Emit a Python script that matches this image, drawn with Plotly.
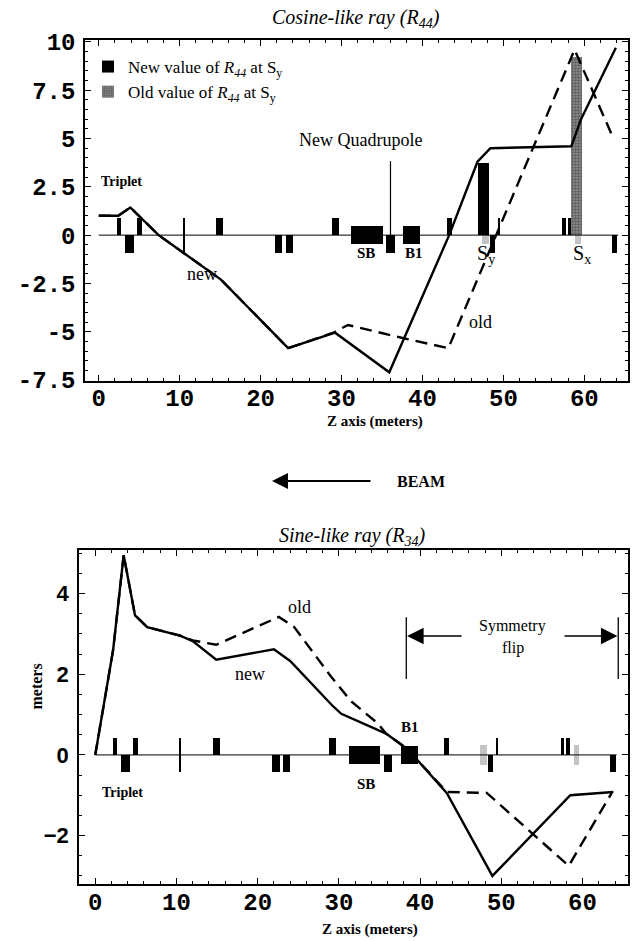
import plotly.graph_objects as go

W, H = 637, 941

# ---------------- data ----------------
# Top panel: cosine-like ray R44 (z in metres)
r44_new_z = [0.0, 2.4, 3.9, 7.4, 15.1, 23.4, 29.2, 35.9, 43.3, 46.8, 48.4, 58.4, 59.6, 63.9]
r44_new_v = [1.0, 1.0, 1.43, 0.0, -2.3, -5.85, -5.05, -7.1, 0.0, 3.8, 4.5, 4.6, 6.0, 9.7]
r44_old_z = [0.0, 2.4, 3.9, 7.4, 15.1, 23.4, 29.0, 30.8, 37.8, 43.2, 58.8, 63.6]
r44_old_v = [1.0, 1.0, 1.43, 0.0, -2.3, -5.85, -5.05, -4.65, -5.35, -5.85, 9.6, 5.0]

# Bottom panel: sine-like ray R34 (metres)
r34_new_z = [0.0, 2.2, 3.5, 4.9, 6.4, 10.4, 12.0, 14.9, 22.0, 24.0, 29.3, 30.3, 35.8, 37.8, 39.1, 43.3, 48.9, 58.5, 63.8]
r34_new_v = [0.0, 2.6, 4.95, 3.46, 3.17, 2.96, 2.82, 2.36, 2.62, 2.33, 1.2, 1.02, 0.53, 0.24, 0.0, -0.95, -3.0, -1.0, -0.92]
r34_old_z = [0.0, 2.2, 3.5, 4.9, 6.4, 10.4, 12.0, 14.9, 22.6, 24.5, 29.0, 31.5, 34.8, 35.8, 37.8, 39.1, 43.3, 48.2, 58.3, 63.6]
r34_old_v = [0.0, 2.6, 4.95, 3.46, 3.17, 2.96, 2.84, 2.73, 3.42, 3.17, 1.95, 1.33, 0.78, 0.53, 0.24, 0.0, -0.92, -0.94, -2.75, -0.94]

# Beamline elements (start / end positions, metres)
beamline_z = [0.0, 64.2]
quad_up_start = [2.2, 4.7, 14.5, 28.8, 43.0, 57.3, 58.0]
quad_up_end = [2.7, 5.3, 15.4, 29.7, 43.6, 57.7, 58.5]
quad_dn_start = [3.2, 21.8, 23.1, 35.5, 48.3, 63.4]
quad_dn_end = [4.3, 22.7, 24.0, 36.6, 49.0, 64.1]
bend_start = [31.2, 37.6]   # SB, B1
bend_end = [35.1, 39.7]
sext_start = [47.4, 58.9]   # Sy, Sx
sext_end = [48.2, 59.6]
thin_both_z = [10.5]
thin_up_z = [49.5]

# R44 value bars
new_bar_span = [46.9, 48.2]
new_r44_value = 3.75
old_bar_span = [58.4, 59.7]
old_r44_value = 9.2

# Tick labels
top_x_ticks = [0, 10, 20, 30, 40, 50, 60]
top_y_ticks = [10, 7.5, 5, 2.5, 0, -2.5, -5, -7.5]
top_y_text = ["10", "7.5", "5", "2.5", "0", "-2.5", "-5", "-7.5"]
bot_y_ticks = [4, 2, 0, -2]
bot_y_text = ["4", "2", "0", "\u22122"]

SERIF = "Liberation Serif"
MONO = "Liberation Mono"
SANS = "Liberation Sans"

fig = go.Figure()


def span_bars(starts, ends, base, height, color, xa, ya, width=None):
    centers = [(a + b) / 2 for a, b in zip(starts, ends)]
    widths = [width if width else (b - a) for a, b in zip(starts, ends)]
    fig.add_trace(go.Bar(x=centers, y=[height] * len(centers), base=[base] * len(centers),
                         width=widths, marker=dict(color=color, line=dict(width=0)),
                         xaxis=xa, yaxis=ya, showlegend=False, hoverinfo="skip"))


def elements(xa, ya, qh, bh, sh):
    fig.add_trace(go.Scatter(x=beamline_z, y=[0, 0], mode="lines",
                             line=dict(color="black", width=1), xaxis=xa, yaxis=ya,
                             showlegend=False, hoverinfo="skip"))
    span_bars(quad_up_start, quad_up_end, 0, qh, "black", xa, ya)
    span_bars(quad_dn_start, quad_dn_end, -qh, qh, "black", xa, ya)
    span_bars(bend_start, bend_end, -bh, 2 * bh, "black", xa, ya)
    span_bars(sext_start, sext_end, -sh, 2 * sh, "#c4c4c4", xa, ya)
    span_bars(thin_both_z, thin_both_z, -qh, 2 * qh, "black", xa, ya, width=0.18)
    span_bars(thin_up_z, thin_up_z, 0, qh, "black", xa, ya, width=0.22)


# ---- top panel ----
elements("x", "y", 0.9, 0.45, 0.45)
fig.add_trace(go.Bar(x=[sum(new_bar_span) / 2], y=[new_r44_value], base=[0],
                     width=[new_bar_span[1] - new_bar_span[0]],
                     marker=dict(color="black", line=dict(width=0)),
                     name="New value of <i>R<sub>44</sub></i> at S<sub>y</sub>",
                     xaxis="x", yaxis="y", showlegend=True))
fig.add_trace(go.Bar(x=[sum(old_bar_span) / 2], y=[old_r44_value], base=[0],
                     width=[old_bar_span[1] - old_bar_span[0]],
                     marker=dict(color="#6a6a6a", line=dict(width=0),
                                 pattern=dict(shape=".", fgcolor="#333333", bgcolor="#8a8a8a", size=3, solidity=0.5)),
                     name="Old value of <i>R<sub>44</sub></i> at S<sub>y</sub>",
                     xaxis="x", yaxis="y", showlegend=True))
fig.add_trace(go.Scatter(x=r44_old_z, y=r44_old_v, mode="lines",
                         line=dict(color="black", width=2.4, dash="12px,7px"),
                         xaxis="x", yaxis="y", showlegend=False))
fig.add_trace(go.Scatter(x=r44_new_z, y=r44_new_v, mode="lines",
                         line=dict(color="black", width=2.4),
                         xaxis="x", yaxis="y", showlegend=False))

# ---- bottom panel ----
elements("x2", "y2", 0.42, 0.22, 0.25)
fig.add_trace(go.Scatter(x=r34_old_z, y=r34_old_v, mode="lines",
                         line=dict(color="black", width=2.4, dash="12px,7px"),
                         xaxis="x2", yaxis="y2", showlegend=False))
fig.add_trace(go.Scatter(x=r34_new_z, y=r34_new_v, mode="lines",
                         line=dict(color="black", width=2.4),
                         xaxis="x2", yaxis="y2", showlegend=False))

axis_common = dict(showgrid=False, zeroline=False, showline=True, linecolor="black",
                   linewidth=1.5, mirror="allticks", ticks="inside", ticklen=6,
                   tickcolor="black", tickwidth=1)
mono_font = dict(family=MONO, size=24, color="black", weight="bold")

fig.update_layout(
    width=W, height=H, margin=dict(l=0, r=0, t=0, b=0, autoexpand=False),
    paper_bgcolor="white", plot_bgcolor="white", barmode="overlay", bargap=0,
    xaxis=dict(axis_common, domain=[85 / W, 628 / W], range=[-1.7, 65.4], anchor="y",
               tickvals=top_x_ticks, tickfont=mono_font, automargin=False,
               minor=dict(dtick=2, ticklen=3, ticks="inside", tickcolor="black"),
               ticklabelstandoff=-6),
    yaxis=dict(axis_common, domain=[1 - 381 / H, 1 - 40 / H], range=[-7.55, 10.1], anchor="x",
               tickvals=top_y_ticks, ticktext=top_y_text, tickfont=mono_font, automargin=False,
               minor=dict(dtick=0.5, ticklen=3, ticks="inside", tickcolor="black"),
               ticklabelstandoff=3),
    xaxis2=dict(axis_common, domain=[79 / W, 628 / W], range=[-2.0, 65.6], anchor="y2",
                tickvals=top_x_ticks, tickfont=mono_font, automargin=False,
                minor=dict(dtick=2, ticklen=3, ticks="inside", tickcolor="black"),
                ticklabelstandoff=-5),
    yaxis2=dict(axis_common, domain=[1 - 884 / H, 1 - 550 / H], range=[-3.2, 5.08], anchor="x2",
                tickvals=bot_y_ticks, ticktext=bot_y_text, automargin=False,
                tickfont=dict(family=SANS, size=22, color="black", weight="bold"),
                minor=dict(dtick=0.5, ticklen=3, ticks="inside", tickcolor="black"),
                ticklabelstandoff=4),
    legend=dict(x=88 / W, y=1 - 49 / H, xanchor="left", yanchor="top", bgcolor="rgba(0,0,0,0)",
                font=dict(family=SERIF, size=17, color="black"), itemsizing="constant",
                traceorder="normal"),
)

ann = []


def txt(text, x, y, xref, yref, size, bold=False, italic=False, xanchor="center", yanchor="middle"):
    t = text
    if bold:
        t = "<b>" + t + "</b>"
    if italic:
        t = "<i>" + t + "</i>"
    ann.append(dict(text=t, x=x, y=y, xref=xref, yref=yref, showarrow=False,
                    xanchor=xanchor, yanchor=yanchor,
                    font=dict(family=SERIF, size=size, color="black")))


# titles and axis titles (paper coordinates)
txt("Cosine-like ray (R<sub>44</sub>)", 356 / W, 1 - 18 / H, "paper", "paper", 20, italic=True)
txt("Sine-like ray (R<sub>34</sub>)", 352 / W, 1 - 536 / H, "paper", "paper", 20, italic=True)
txt("Z axis (meters)", 375 / W, 1 - 422 / H, "paper", "paper", 15, bold=True)
txt("Z axis (meters)", 370 / W, 1 - 929 / H, "paper", "paper", 15, bold=True)
ann.append(dict(text="<b>meters</b>", x=25 / W, y=1 - 712 / H, xref="paper", yref="paper",
                showarrow=False, textangle=-90, font=dict(family=SERIF, size=16, color="black")))
txt("BEAM", 421 / W, 1 - 481 / H, "paper", "paper", 16, bold=True)
ann.append(dict(text="", x=272 / W, y=1 - 481 / H, ax=100, ay=0,
                xref="paper", yref="paper", axref="pixel", ayref="pixel", showarrow=True,
                arrowhead=2, arrowsize=1.6, arrowwidth=2, arrowcolor="black"))

# top panel labels
txt("Triplet", 2.8, 2.8, "x", "y", 14, bold=True)
txt("New Quadrupole", 32.4, 4.9, "x", "y", 18)
ann.append(dict(text="", x=36.05, y=-0.2, ax=36.05, ay=3.9, xref="x", yref="y", axref="x", ayref="y",
                showarrow=True, arrowhead=0, arrowwidth=1.2, arrowcolor="black"))
txt("SB", 33.0, -0.95, "x", "y", 15, bold=True)
txt("B1", 38.9, -0.95, "x", "y", 15, bold=True)
txt("S<sub>y</sub>", 47.9, -1.0, "x", "y", 20)
txt("S<sub>x</sub>", 59.7, -1.0, "x", "y", 20)
txt("new", 12.8, -2.0, "x", "y", 18)
txt("old", 47.2, -4.5, "x", "y", 18)

# bottom panel labels
txt("old", 25.2, 3.67, "x2", "y2", 18)
txt("new", 19.0, 2.0, "x2", "y2", 18)
txt("B1", 38.8, 0.69, "x2", "y2", 15, bold=True)
txt("SB", 33.3, -0.73, "x2", "y2", 15, bold=True)
txt("Triplet", 3.4, -0.94, "x2", "y2", 14, bold=True)
txt("Symmetry", 51.4, 3.2, "x2", "y2", 16)
txt("flip", 51.4, 2.65, "x2", "y2", 16)
for zl in (38.3, 64.4):
    ann.append(dict(text="", x=zl, y=1.88, ax=zl, ay=3.45, xref="x2", yref="y2", axref="x2", ayref="y2",
                    showarrow=True, arrowhead=0, arrowwidth=1.3, arrowcolor="black"))
ann.append(dict(text="", x=38.4, y=2.95, ax=45.3, ay=2.95, xref="x2", yref="y2", axref="x2", ayref="y2",
                showarrow=True, arrowhead=2, arrowsize=2.2, arrowwidth=1.5, arrowcolor="black"))
ann.append(dict(text="", x=64.3, y=2.95, ax=57.6, ay=2.95, xref="x2", yref="y2", axref="x2", ayref="y2",
                showarrow=True, arrowhead=2, arrowsize=2.2, arrowwidth=1.5, arrowcolor="black"))

fig.update_layout(annotations=ann)
fig.write_html(
    "out.html", config={"displayModeBar": False},
    post_script=("document.documentElement.style.overflow='hidden';"
                 "document.body.style.overflow='hidden';"
                 "document.body.style.margin='0px';"))
